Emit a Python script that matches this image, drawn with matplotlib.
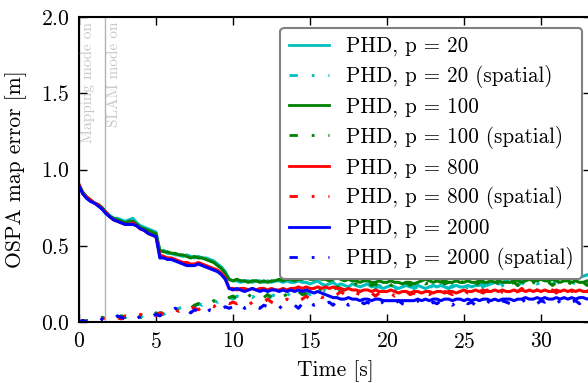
import numpy as np
import matplotlib
matplotlib.use('Agg')
import matplotlib.pyplot as plt

plt.rcParams['font.family'] = 'serif'
plt.rcParams['font.serif'] = ['cmr10']
plt.rcParams['mathtext.fontset'] = 'cm'
plt.rcParams['axes.formatter.use_mathtext'] = True
plt.rcParams['font.size'] = 15.5

# time axis, 0.25 s steps
t = np.arange(134) * 0.25

# OSPA map error, PHD filter with p particles (solid) and spatial variant (dashed)
phd20 = [0.90, 0.85, 0.82, 0.80, 0.78, 0.77, 0.75, 0.72, 0.70, 0.68, 0.68, 0.67, 0.66, 0.67, 0.68, 0.65, 0.63, 0.62, 0.61, 0.60, 0.59,
         0.46, 0.47, 0.45, 0.45, 0.44, 0.44, 0.43, 0.44, 0.43, 0.42, 0.43, 0.42, 0.42, 0.41, 0.40, 0.38, 0.36, 0.33, 0.28,
         0.27, 0.27, 0.26, 0.27, 0.27, 0.26, 0.27, 0.27,
         0.26, 0.27, 0.26, 0.27, 0.27, 0.26, 0.27, 0.26,
         0.26, 0.27, 0.26, 0.26, 0.25, 0.26, 0.27, 0.25,
         0.24, 0.25, 0.26, 0.24, 0.25, 0.24, 0.23, 0.25,
         0.24, 0.23, 0.24, 0.25, 0.23, 0.24, 0.23, 0.22,
         0.23, 0.24, 0.23, 0.22, 0.23, 0.24, 0.23, 0.23,
         0.24, 0.23, 0.22, 0.23, 0.24, 0.23, 0.24, 0.23,
         0.22, 0.23, 0.24, 0.23, 0.23, 0.24, 0.23, 0.24,
         0.24, 0.25, 0.24, 0.25, 0.26, 0.25, 0.26, 0.27,
         0.26, 0.27, 0.28, 0.27, 0.28, 0.28, 0.29, 0.28,
         0.29, 0.30, 0.29, 0.30, 0.30, 0.29, 0.30, 0.30,
         0.30, 0.31, 0.30, 0.30, 0.31, 0.30]
phd20_sp = [0.00, 0.01, 0.00, 0.02, 0.01, 0.02, 0.03, 0.02, 0.03, 0.04, 0.03, 0.04, 0.03, 0.05, 0.04, 0.04, 0.03, 0.05, 0.04, 0.05,
            0.05, 0.06, 0.05, 0.07, 0.08, 0.07, 0.09, 0.10, 0.09, 0.11, 0.10, 0.12, 0.11, 0.13, 0.12, 0.14, 0.13, 0.15, 0.14, 0.16,
            0.15, 0.17, 0.16, 0.15, 0.17, 0.16, 0.18, 0.16,
            0.17, 0.15, 0.17, 0.18, 0.16, 0.17, 0.19, 0.17,
            0.16, 0.18, 0.17, 0.19, 0.18, 0.20, 0.18, 0.19,
            0.21, 0.19, 0.20, 0.22, 0.20, 0.21, 0.23, 0.21,
            0.22, 0.20, 0.22, 0.23, 0.21, 0.22, 0.24, 0.22,
            0.21, 0.23, 0.22, 0.21, 0.23, 0.22, 0.24, 0.22,
            0.23, 0.21, 0.23, 0.22, 0.24, 0.22, 0.21, 0.23,
            0.22, 0.24, 0.22, 0.23, 0.21, 0.23, 0.22, 0.24,
            0.22, 0.23, 0.25, 0.23, 0.24, 0.22, 0.24, 0.25,
            0.23, 0.25, 0.24, 0.26, 0.24, 0.25, 0.27, 0.25,
            0.26, 0.24, 0.26, 0.25, 0.27, 0.25, 0.26, 0.24,
            0.26, 0.25, 0.27, 0.25, 0.26, 0.25]
phd100 = [0.90, 0.85, 0.82, 0.80, 0.78, 0.77, 0.75, 0.72, 0.69, 0.68, 0.67, 0.66, 0.65, 0.66, 0.66, 0.64, 0.62, 0.61, 0.60, 0.59, 0.58,
          0.47, 0.46, 0.46, 0.45, 0.45, 0.44, 0.44, 0.43, 0.42, 0.43, 0.42, 0.42, 0.41, 0.40, 0.39, 0.37, 0.35, 0.32, 0.28,
          0.27, 0.28, 0.27, 0.27, 0.26, 0.27, 0.27, 0.26,
          0.27, 0.26, 0.27, 0.27, 0.28, 0.27, 0.28, 0.28,
          0.27, 0.28, 0.28, 0.29, 0.28, 0.28, 0.29, 0.28,
          0.28, 0.27, 0.28, 0.29, 0.28, 0.27, 0.28, 0.27,
          0.27, 0.26, 0.27, 0.27, 0.26, 0.26, 0.27, 0.26,
          0.26, 0.27, 0.26, 0.26, 0.25, 0.26, 0.26, 0.25,
          0.26, 0.27, 0.28, 0.27, 0.26, 0.27, 0.26, 0.27,
          0.26, 0.26, 0.27, 0.26, 0.26, 0.27, 0.26, 0.26,
          0.27, 0.26, 0.26, 0.27, 0.26, 0.27, 0.26, 0.26,
          0.26, 0.27, 0.27, 0.26, 0.27, 0.28, 0.27, 0.27,
          0.28, 0.27, 0.27, 0.28, 0.27, 0.26, 0.27, 0.27,
          0.26, 0.27, 0.26, 0.26, 0.27, 0.26]
phd100_sp = [0.00, 0.00, 0.01, 0.01, 0.02, 0.01, 0.03, 0.02, 0.04, 0.03, 0.02, 0.04, 0.03, 0.04, 0.02, 0.04, 0.03, 0.04, 0.05, 0.04,
             0.06, 0.05, 0.07, 0.06, 0.08, 0.07, 0.09, 0.08, 0.10, 0.09, 0.11, 0.12, 0.11, 0.13, 0.12, 0.14, 0.13, 0.15, 0.14, 0.16,
             0.17, 0.15, 0.17, 0.16, 0.18, 0.16, 0.15, 0.17,
             0.16, 0.18, 0.16, 0.17, 0.19, 0.17, 0.18, 0.16,
             0.18, 0.20, 0.18, 0.19, 0.21, 0.19, 0.20, 0.22,
             0.20, 0.22, 0.21, 0.23, 0.22, 0.24, 0.22, 0.23,
             0.25, 0.23, 0.24, 0.26, 0.24, 0.25, 0.23, 0.25,
             0.26, 0.24, 0.25, 0.27, 0.25, 0.26, 0.24, 0.26,
             0.25, 0.27, 0.25, 0.26, 0.24, 0.26, 0.27, 0.25,
             0.26, 0.24, 0.26, 0.25, 0.27, 0.25, 0.26, 0.24,
             0.26, 0.27, 0.25, 0.26, 0.24, 0.26, 0.25, 0.27,
             0.25, 0.26, 0.24, 0.26, 0.27, 0.25, 0.26, 0.25,
             0.27, 0.25, 0.26, 0.24, 0.26, 0.25, 0.27, 0.26,
             0.25, 0.27, 0.25, 0.26, 0.24, 0.26]
phd800 = [0.90, 0.84, 0.82, 0.80, 0.78, 0.77, 0.74, 0.72, 0.69, 0.67, 0.66, 0.65, 0.64, 0.64, 0.65, 0.63, 0.61, 0.60, 0.58, 0.57, 0.56,
          0.44, 0.43, 0.42, 0.42, 0.41, 0.40, 0.39, 0.39, 0.38, 0.38, 0.39, 0.38, 0.37, 0.36, 0.35, 0.34, 0.32, 0.29, 0.22,
          0.22, 0.21, 0.22, 0.22, 0.21, 0.22, 0.21, 0.22,
          0.22, 0.21, 0.22, 0.21, 0.21, 0.22, 0.21, 0.22,
          0.22, 0.23, 0.22, 0.23, 0.22, 0.22, 0.23, 0.22,
          0.23, 0.22, 0.23, 0.22, 0.22, 0.21, 0.22, 0.21,
          0.21, 0.20, 0.21, 0.21, 0.20, 0.21, 0.20, 0.20,
          0.20, 0.21, 0.20, 0.19, 0.20, 0.20, 0.19, 0.20,
          0.20, 0.19, 0.20, 0.20, 0.19, 0.20, 0.20, 0.19,
          0.20, 0.20, 0.19, 0.20, 0.21, 0.20, 0.20, 0.21,
          0.20, 0.21, 0.20, 0.20, 0.21, 0.20, 0.21, 0.20,
          0.20, 0.21, 0.20, 0.21, 0.20, 0.21, 0.20, 0.21,
          0.20, 0.21, 0.20, 0.20, 0.21, 0.20, 0.21, 0.20,
          0.21, 0.20, 0.21, 0.20, 0.20, 0.21]
phd800_sp = [0.00, 0.01, 0.00, 0.01, 0.02, 0.01, 0.02, 0.03, 0.02, 0.04, 0.03, 0.02, 0.04, 0.03, 0.04, 0.03, 0.05, 0.04, 0.03, 0.05,
             0.04, 0.06, 0.05, 0.07, 0.06, 0.08, 0.07, 0.09, 0.08, 0.10, 0.09, 0.08, 0.10, 0.09, 0.11, 0.10, 0.12, 0.11, 0.13, 0.12,
             0.13, 0.12, 0.14, 0.12, 0.11, 0.13, 0.12, 0.14,
             0.13, 0.15, 0.13, 0.12, 0.14, 0.13, 0.15, 0.14,
             0.16, 0.14, 0.15, 0.17, 0.15, 0.16, 0.18, 0.16,
             0.17, 0.19, 0.17, 0.18, 0.20, 0.18, 0.19, 0.17,
             0.19, 0.18, 0.20, 0.18, 0.19, 0.17, 0.19, 0.20,
             0.18, 0.19, 0.17, 0.19, 0.18, 0.20, 0.18, 0.19,
             0.18, 0.20, 0.19, 0.18, 0.20, 0.19, 0.18, 0.20,
             0.19, 0.18, 0.20, 0.19, 0.21, 0.19, 0.20, 0.18,
             0.20, 0.19, 0.21, 0.19, 0.20, 0.18, 0.20, 0.19,
             0.21, 0.19, 0.20, 0.22, 0.20, 0.21, 0.19, 0.21,
             0.20, 0.22, 0.20, 0.21, 0.19, 0.21, 0.20, 0.22,
             0.20, 0.21, 0.19, 0.21, 0.20, 0.22]
phd2000 = [0.89, 0.84, 0.81, 0.79, 0.78, 0.76, 0.74, 0.71, 0.69, 0.67, 0.66, 0.65, 0.64, 0.64, 0.64, 0.63, 0.61, 0.60, 0.58, 0.57, 0.56,
           0.42, 0.42, 0.41, 0.41, 0.40, 0.39, 0.38, 0.37, 0.37, 0.37, 0.38, 0.37, 0.36, 0.35, 0.34, 0.33, 0.31, 0.28, 0.22,
           0.21, 0.22, 0.21, 0.20, 0.21, 0.22, 0.21, 0.20,
           0.21, 0.20, 0.21, 0.21, 0.20, 0.21, 0.20, 0.21,
           0.20, 0.21, 0.20, 0.21, 0.20, 0.19, 0.20, 0.19,
           0.18, 0.17, 0.16, 0.16, 0.15, 0.15, 0.16, 0.15,
           0.15, 0.14, 0.15, 0.15, 0.14, 0.15, 0.15, 0.14,
           0.14, 0.14, 0.14, 0.14, 0.14, 0.14, 0.14, 0.14,
           0.15, 0.14, 0.15, 0.14, 0.15, 0.15, 0.14, 0.15,
           0.15, 0.14, 0.15, 0.15, 0.14, 0.15, 0.14, 0.15,
           0.14, 0.15, 0.15, 0.14, 0.15, 0.14, 0.15, 0.15,
           0.15, 0.14, 0.15, 0.15, 0.16, 0.15, 0.15, 0.16,
           0.15, 0.16, 0.15, 0.15, 0.16, 0.15, 0.16, 0.15,
           0.16, 0.15, 0.16, 0.16, 0.15, 0.16]
phd2000_sp = [0.00, 0.01, 0.00, 0.02, 0.01, 0.00, 0.02, 0.01, 0.03, 0.02, 0.04, 0.03, 0.02, 0.04, 0.03, 0.02, 0.04, 0.03, 0.05, 0.04,
              0.05, 0.04, 0.06, 0.05, 0.07, 0.09, 0.08, 0.10, 0.08, 0.06, 0.08, 0.07, 0.09, 0.06, 0.08, 0.07, 0.09, 0.08, 0.10, 0.09,
              0.10, 0.08, 0.11, 0.09, 0.10, 0.12, 0.10, 0.09,
              0.11, 0.10, 0.12, 0.10, 0.09, 0.11, 0.10, 0.12,
              0.11, 0.09, 0.12, 0.10, 0.13, 0.11, 0.12, 0.14,
              0.12, 0.13, 0.11, 0.14, 0.12, 0.13, 0.11, 0.13,
              0.12, 0.14, 0.12, 0.13, 0.11, 0.14, 0.12, 0.13,
              0.11, 0.13, 0.12, 0.14, 0.12, 0.11, 0.13, 0.12,
              0.14, 0.12, 0.13, 0.11, 0.13, 0.12, 0.14, 0.12,
              0.13, 0.11, 0.13, 0.12, 0.14, 0.12, 0.13, 0.11,
              0.13, 0.12, 0.14, 0.12, 0.13, 0.11, 0.14, 0.13,
              0.12, 0.14, 0.12, 0.13, 0.15, 0.13, 0.14, 0.12,
              0.14, 0.13, 0.15, 0.13, 0.12, 0.14, 0.13, 0.15,
              0.13, 0.14, 0.12, 0.14, 0.13, 0.15]

series = [('PHD, p = 20', phd20, phd20_sp, 'c'),
          ('PHD, p = 100', phd100, phd100_sp, 'g'),
          ('PHD, p = 800', phd800, phd800_sp, 'r'),
          ('PHD, p = 2000', phd2000, phd2000_sp, 'b')]

mode_times = [0.0, 1.7]
mode_labels = ['Mapping mode on', 'SLAM mode on']

fig = plt.figure(figsize=(5.88, 3.83), dpi=100)
ax = fig.add_axes([79/588, 1 - 322/383, 512/588, 305/383])

for t0, lab in zip(mode_times, mode_labels):
    ax.axvline(t0, color='0.7', lw=1)
    ax.text(t0 + 0.12, 1.97, lab, rotation=90, va='top', ha='left',
            color='0.78', fontsize=11)

for name, sol, sp, col in series:
    ax.plot(t, sol, color=col, lw=2.2, label=name)
    ax.plot(t, sp, color=col, lw=2.2, ls=(0, (3, 5, 1, 5)), label=name + ' (spatial)')

ax.set_xlim(0, 33.25)
ax.set_ylim(0, 2.0)
ax.set_xticks([0, 5, 10, 15, 20, 25, 30])
ax.set_yticks([0.0, 0.5, 1.0, 1.5, 2.0])
ax.tick_params(direction='in', top=True, right=True, length=6, width=1, pad=7)
for s in ax.spines.values():
    s.set_linewidth(1.5)
ax.set_xlabel('Time [s]', labelpad=6)
ax.set_ylabel('OSPA map error [m]', labelpad=10)

leg = ax.legend(loc='upper right', bbox_to_anchor=(582/588, 1 - 28/383),
                bbox_transform=fig.transFigure, borderaxespad=0,
                fancybox=True, framealpha=1, fontsize=15.2, labelspacing=0.42,
                handlelength=1.9)
leg.get_frame().set_edgecolor('0.5')
leg.get_frame().set_linewidth(1.5)
for ln in leg.get_lines():
    ln.set_linewidth(2)

fig.savefig('out.png', dpi=100)
